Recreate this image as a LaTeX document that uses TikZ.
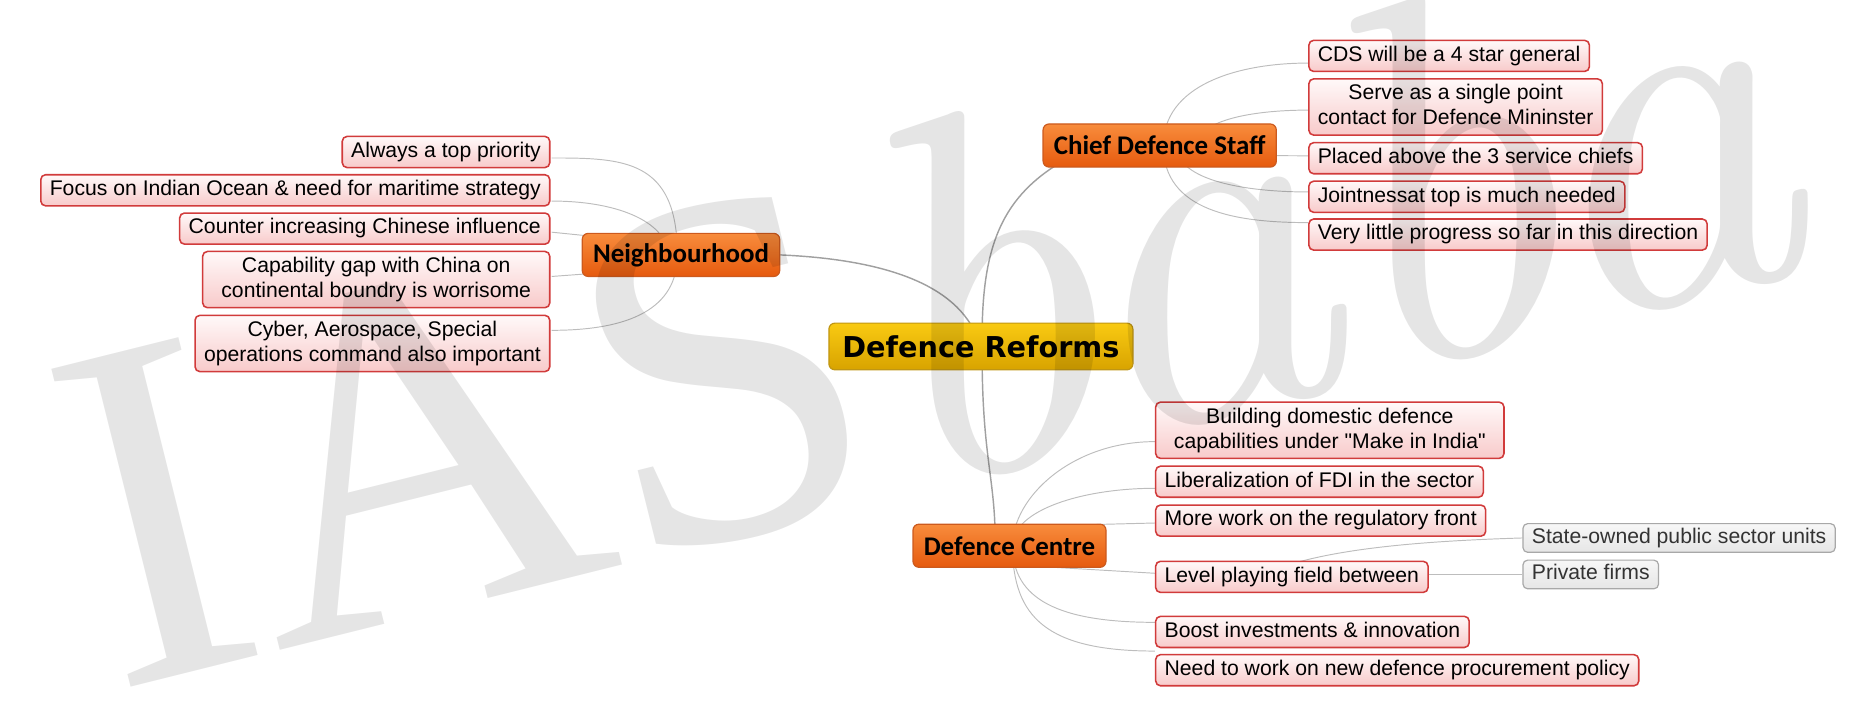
\documentclass[tikz,border=0pt]{standalone}
\usepackage{fontspec}
\setmainfont{Liberation Sans}[Ligatures=TeXOff]
\newfontfamily\titlefont{DejaVu Sans}
\newfontfamily\branchfont{Carlito}
\newfontfamily\wmfont{Liberation Serif}
\newfontfamily\wmitfont{lmroman10-italic}[Extension=.otf]
\usetikzlibrary{backgrounds,calc}
\definecolor{leafred}{HTML}{D13B3B}
\definecolor{leafpink}{HTML}{F8CACA}
\definecolor{leaftop}{HTML}{FFF9F9}
\definecolor{greydraw}{HTML}{A8A8A8}
\definecolor{greytop}{HTML}{F7F7F7}
\definecolor{greybot}{HTML}{E6E6E6}
\definecolor{greytext}{HTML}{333333}
\definecolor{orangetop}{HTML}{F88C3C}
\definecolor{orangebot}{HTML}{E65A0E}
\definecolor{orangedraw}{HTML}{CC5A1E}
\definecolor{goldtop}{HTML}{F9CA12}
\definecolor{goldbot}{HTML}{D8A300}
\definecolor{golddraw}{HTML}{C09614}
\definecolor{connlight}{HTML}{BDBDBD}
\definecolor{conndark}{HTML}{A0A0A0}
\tikzset{
  leafbox/.style={draw=leafred, line width=1.3pt, rounded corners=4pt,
    top color=leaftop, bottom color=leafpink,
    font=\fontsize{17.7}{21}\selectfont, text height=13pt, text depth=4pt,
    inner xsep=7.5pt, inner ysep=4.5pt, align=center},
  leaftwo/.style={leafbox, text height=34pt},
  greybox/.style={leafbox, draw=greydraw, line width=1pt, top color=greytop, bottom color=greybot, text=greytext, inner ysep=3.5pt},
  branchbox/.style={draw=orangedraw, line width=1pt, rounded corners=5pt,
    top color=orangetop, bottom color=orangebot,
    font=\branchfont\bfseries\fontsize{22.5}{26}\selectfont,
    minimum height=36pt, inner xsep=9pt, inner ysep=0pt},
  titlebox/.style={draw=golddraw, line width=1pt, rounded corners=5pt,
    top color=goldtop, bottom color=goldbot,
    font=\titlefont\bfseries\fontsize{24}{28}\selectfont,
    minimum width=254pt, minimum height=39pt, inner sep=0pt},
  conn/.style={draw=connlight, line width=0.8pt},
  mainconn/.style={draw=conndark, line width=1.2pt},
  watermark/.style={font=\fontsize{418}{418}\selectfont, text=black, text opacity=0.1,
    anchor=base west, inner sep=0pt, rotate=14}
}
\begin{document}
\begin{tikzpicture}[x=1pt,y=-1pt]
\useasboundingbox (0,0) rectangle (1560,605);
% central and branches
\node[titlebox] (root) at (819.6,289.5) {Defence Reforms};
\node[branchbox] (nb) at (569,213) {Neighbourhood};
\node[branchbox] (cds) at (969,121.6) {Chief Defence Staff};
\node[branchbox] (dc) at (843.5,456) {Defence Centre};
% Neighbourhood leaves
\node[leafbox, anchor=east] (n1) at (460,127) {Always a top priority};
\node[leafbox, anchor=east] (n2) at (460,159) {Focus on Indian Ocean \& need for maritime strategy};
\node[leafbox, anchor=east] (n3) at (460,191) {Counter increasing Chinese influence};
\node[leaftwo, anchor=east, minimum width=290pt] (n4) at (460,233.6) {Capability gap with China on\\continental boundry is worrisome};
\node[leaftwo, anchor=east, minimum width=291pt] (n5) at (460,287) {Cyber, Aerospace, Special\\operations command also important};
% CDS leaves
\node[leafbox, anchor=west] (c1) at (1093,46.7) {CDS will be a 4 star general};
\node[leaftwo, anchor=west] (c2) at (1093,89.4) {Serve as a single point\\contact for Defence Mininster};
\node[leafbox, anchor=west] (c3) at (1093,132.2) {Placed above the 3 service chiefs};
\node[leafbox, anchor=west] (c4) at (1093,164.4) {Jointnessat top is much needed};
\node[leafbox, anchor=west] (c5) at (1093,196) {Very little progress so far in this direction};
% Defence Centre leaves
\node[leaftwo, anchor=west, minimum width=291pt] (d1) at (965,359.5) {Building domestic defence\\capabilities under "Make in India"};
\node[leafbox, anchor=west] (d2) at (965,402.5) {Liberalization of FDI in the sector};
\node[leafbox, anchor=west] (d3) at (965,435) {More work on the regulatory front};
\node[leafbox, anchor=west] (d4) at (965,482) {Level playing field between};
\node[leafbox, anchor=west] (d5) at (965,528) {Boost investments \& innovation};
\node[leafbox, anchor=west] (d6) at (965,560) {Need to work on new defence procurement policy};
% grey sub-leaves
\node[greybox, anchor=west] (g1) at (1272,449.5) {State-owned public sector units};
\node[greybox, anchor=west] (g2) at (1272,480) {Private firms};
% connectors
\begin{scope}[on background layer]
  \coordinate (nbc) at ($(nb.center)+(-3,0)$);
  \coordinate (cdsc) at ($(cds.center)+(3,0)$);
  \coordinate (dcc) at ($(dc.center)+(2.5,0)$);
  % main
  \draw[mainconn] (nb.east) .. controls (720,216) and (790,230) .. ($(root.north)+(-6,6)$);
  \draw[mainconn] ($(root.north)+(1,10)$) .. controls (821,200) and (840,160) .. ($(cds.south west)+(25,-10)$);
  \draw[mainconn] ($(root.south)+(1,-10)$) .. controls (821,380) and (831,400) .. ($(dc.north)+(-12,10)$);
  % Neighbourhood
  \draw[conn] (nbc) .. controls +(0,-80) and +(60,0) .. ($(n1.east)+(1,5)$);
  \draw[conn] ($(nb.center)+(-11,0)$) .. controls +(0,-25) and +(60,0) .. ($(n2.east)+(1,9)$);
  \draw[conn] ($(n3.east)+(1,3)$) -- ($(nb.center)+(0,-8)$);
  \draw[conn] ($(n4.east)+(1,-2.6)$) -- ($(nb.center)+(0,10)$);
  \draw[conn] (nbc) .. controls +(0,45) and +(65,0) .. ($(n5.east)+(1,-11)$);
  % CDS
  \draw[conn] (cdsc) .. controls +(0,-50) and +(-60,0) .. ($(c1.west)+(0,6)$);
  \draw[conn] ($(cds.center)+(31,0)$) .. controls +(0,-20) and +(-50,0) .. ($(c2.west)+(0,2.6)$);
  \draw[conn] ($(cds.center)+(0,8)$) -- ($(c3.west)+(0,-2)$);
  \draw[conn] ($(cds.center)+(14,0)$) .. controls +(0,30) and +(-50,0) .. ($(c4.west)+(0,-4)$);
  \draw[conn] (cdsc) .. controls +(0,55) and +(-60,0) .. ($(c5.west)+(0,-10)$);
  % Defence Centre
  \draw[conn] (dcc) .. controls +(0,-40) and +(-70,0) .. ($(d1.west)+(0,9.5)$);
  \draw[conn] (dcc) .. controls +(0,-30) and +(-60,0) .. ($(d2.west)+(0,5.5)$);
  \draw[conn] ($(dcc)+(0,-16)$) -- ($(d3.west)+(0,2)$);
  \draw[conn] ($(dcc)+(0,16)$) -- ($(d4.west)+(0,-3)$);
  \draw[conn] (dcc) .. controls +(0,45) and +(-80,0) .. ($(d5.west)+(0,-8)$);
  \draw[conn] (dcc) .. controls +(0,60) and +(-90,0) .. ($(d6.west)+(0,-16)$);
  % Level playing field
  \draw[conn] ($(d4.center)+(-12,-7)$) .. controls (1115,458) and (1190,452) .. (g1.west);
  \draw[conn] ($(d4.east)+(0,-2)$) -- (g2.west);
\end{scope}
% watermark
\node[watermark] (wm) at (95,578) {\wmfont IAS\wmitfont\fontsize{432}{432}\selectfont baba};
\end{tikzpicture}
\end{document}
